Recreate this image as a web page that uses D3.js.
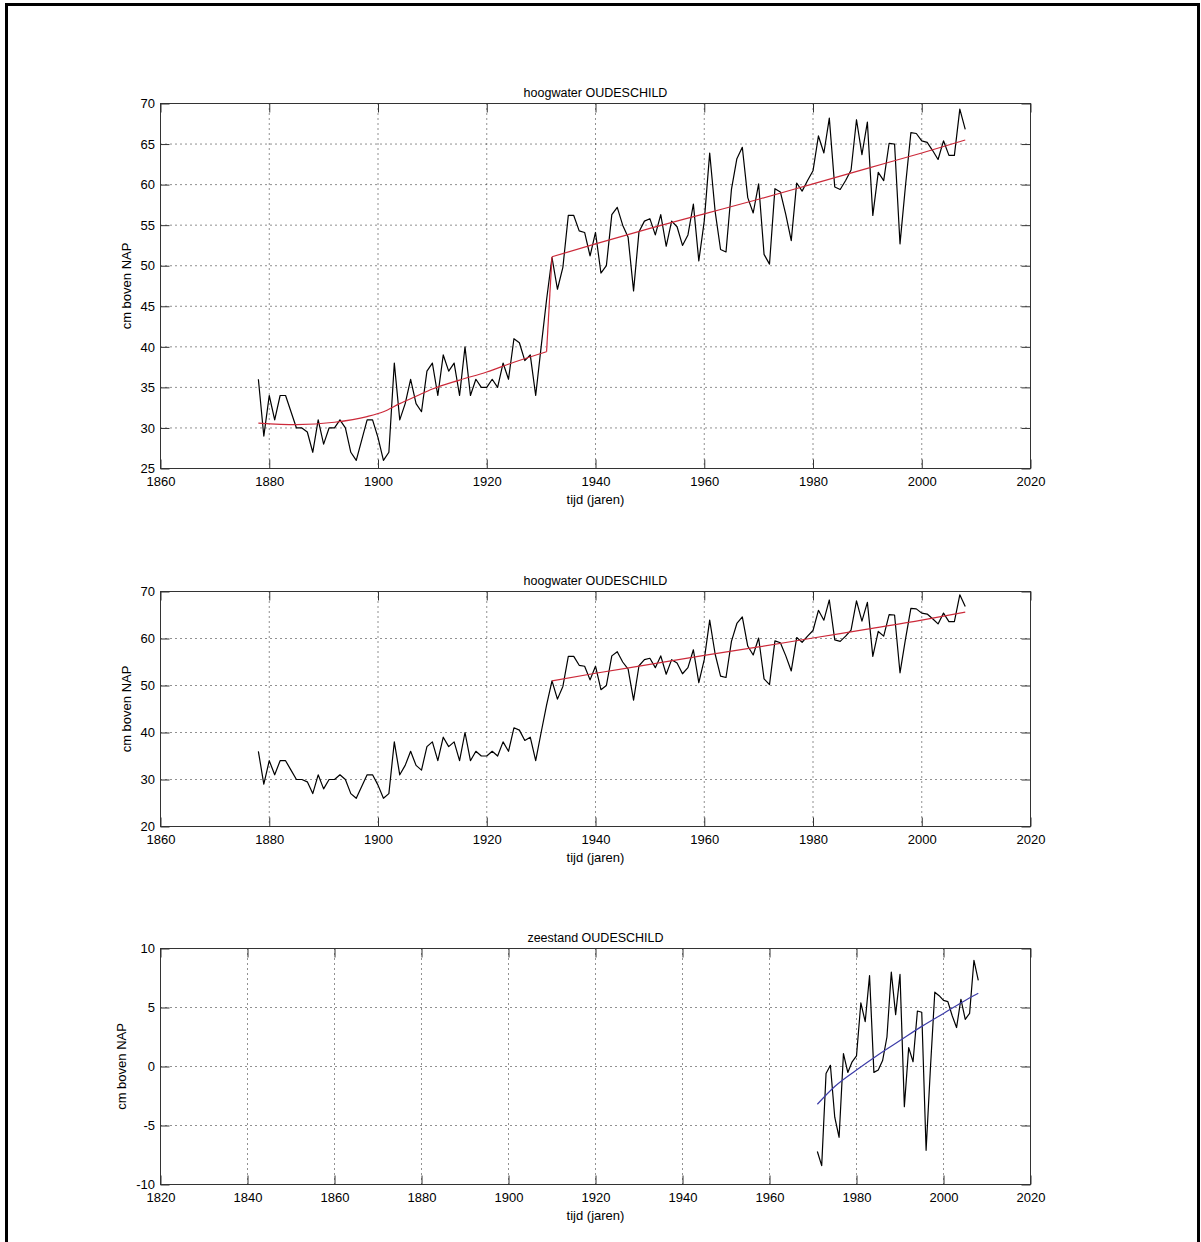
<!DOCTYPE html>
<html lang="nl">
<head>
<meta charset="UTF-8">
<title>hoogwater OUDESCHILD</title>
<script src="https://d3js.org/d3.v7.min.js"></script>
<style>
    body {
        margin: 0;
        background: #fff;
    }
    svg {
        display: block;
    }
    text {
        font-family: "Liberation Sans", Arial, sans-serif;
        font-size: 13px;
        fill: #000;
    }
    .grid line {
        stroke: #222;
        stroke-width: 1;
        stroke-dasharray: 1,4;
    }
    .box {
        fill: none;
        stroke: #333;
        stroke-width: 1;
    }
    .tick line {
        stroke: #333;
    }
    .series {
        fill: none;
        stroke-width: 1.2;
        stroke-linejoin: round;
    }
</style>
</head>
<body>
<svg id="chart" width="1201" height="1242"></svg>
<script>
// jaarlijks gemiddeld hoogwater Oudeschild, 1878 - 2008 (cm boven NAP)
var hwStart = 1878;
var hoogwater = [36, 29, 34, 31, 34, 34, 32, 30, 30, 29.5,
    27, 31, 28, 30, 30, 31, 30, 27, 26, 28.5,
    31, 31, 28.8, 26, 27, 38, 31, 33, 36, 33,
    32, 37, 38, 34, 39, 37, 38, 34, 40, 34,
    36, 35, 35, 36, 35, 38, 36, 41, 40.5, 38.3,
    39, 34, 40, 45.8, 51, 47.1, 49.8, 56.2, 56.2, 54.3,
    54.1, 51.2, 54.1, 49.1, 50, 56.3, 57.2, 55, 53.5, 46.9,
    54.2, 55.5, 55.8, 53.8, 56.3, 52.4, 55.5, 54.8, 52.5, 53.8,
    57.6, 50.6, 55.5, 63.9, 56.7, 52, 51.7, 59.4, 63.2, 64.6,
    58.4, 56.5, 60.1, 51.4, 50.2, 59.5, 59.1, 56.3, 53.1, 60.2,
    59.2, 60.5, 61.7, 66, 63.9, 68.2, 59.7, 59.4, 60.5, 61.8,
    68, 63.7, 67.7, 56.2, 61.5, 60.5, 65.1, 65, 52.7, 59.8,
    66.4, 66.3, 65.4, 65.2, 64.2, 63.1, 65.4, 63.6, 63.6, 69.3,
    66.8];

// trend (rood) bovenste figuur, voor en na de sprong in 1932
var trendJaren1a = [1878, 1885, 1892, 1898, 1901, 1904, 1907, 1910, 1915, 1920, 1925, 1931];
var trend1a = [30.6, 30.4, 30.7, 31.4, 32.0, 33.0, 33.9, 34.8, 35.9, 36.9, 38.1, 39.4];
var trendJaren1b = [1931, 1932];
var trend1b = [39.4, 51.1];
var trendJaren1c = [1932, 1940, 1950, 1960, 1970, 1980, 1990, 2000, 2008];
var trend1c = [51.1, 52.7, 54.6, 56.4, 58.2, 60.1, 62.0, 63.9, 65.5];

// trend (rood) middelste figuur, vanaf 1932
var trendJaren2 = [1932, 1940, 1950, 1960, 1970, 1980, 1990, 2000, 2008];
var trend2 = [51.0, 52.6, 54.5, 56.4, 58.2, 60.1, 62.0, 63.9, 65.6];

// zeestand Oudeschild, 1971 - 2008
var zsStart = 1971;
var zeestand = [-7.2, -8.4, -0.6, 0.1, -4.3, -6.0, 1.1, -0.5, 0.4, 0.9,
    5.4, 3.8, 7.7, -0.5, -0.3, 0.5, 2.5, 8.0, 4.4, 7.8,
    -3.4, 1.6, 0.4, 4.7, 4.6, -7.1, -0.1, 6.3, 6.0, 5.6,
    5.5, 4.3, 3.3, 5.7, 4.0, 4.5, 9.0, 7.3];

// trend (blauw) onderste figuur
var trendJaren3 = [1971, 1975, 1980, 1985, 1990, 1995, 2000, 2005, 2008];
var trend3 = [-3.2, -1.7, -0.3, 1.0, 2.2, 3.4, 4.5, 5.6, 6.2];

var xTicks1 = [1860, 1880, 1900, 1920, 1940, 1960, 1980, 2000, 2020];
var yTicks1 = [25, 30, 35, 40, 45, 50, 55, 60, 65, 70];
var yTicks2 = [20, 30, 40, 50, 60, 70];
var xTicks3 = [1820, 1840, 1860, 1880, 1900, 1920, 1940, 1960, 1980, 2000, 2020];
var yTicks3 = [-10, -5, 0, 5, 10];

var svg = d3.select("#chart");

// zwarte rand om de figuur
svg.append("path")
    .attr("d", "M6.5,1242V4.5H1198.5V1242")
    .attr("fill", "none")
    .attr("stroke", "#000")
    .attr("stroke-width", 3);

var left = 160.5, right = 1030.5;

// gewoon koppelteken als minteken, zoals in het origineel
var fmt = function(d) { return String(d); };

function panel(p) {
    var x = d3.scaleLinear().domain(p.xDomain).range([left, right]),
        y = d3.scaleLinear().domain(p.yDomain).range([p.bottom, p.top]);

    var g = svg.append("g");

    // stippel grid
    var grid = g.append("g").attr("class", "grid");
    grid.selectAll(".gx")
        .data(p.xTicks)
      .enter().append("line")
        .attr("x1", function(d) { return x(d); })
        .attr("x2", function(d) { return x(d); })
        .attr("y1", p.top)
        .attr("y2", p.bottom);
    grid.selectAll(".gy")
        .data(p.yTicks)
      .enter().append("line")
        .attr("x1", left)
        .attr("x2", right)
        .attr("y1", function(d) { return y(d); })
        .attr("y2", function(d) { return y(d); });

    // lijnen
    p.series.forEach(function(s) {
        var pts = s.values.map(function(v, i) { return [s.years ? s.years[i] : s.start + i, v]; });
        g.append("path")
            .datum(pts)
            .attr("class", "series")
            .attr("stroke", s.color)
            .attr("d", d3.line()
                .curve(s.smooth ? d3.curveMonotoneX : d3.curveLinear)
                .x(function(d) { return x(d[0]); })
                .y(function(d) { return y(d[1]); }));
    });

    g.append("rect")
        .attr("class", "box")
        .attr("x", left)
        .attr("y", p.top)
        .attr("width", right - left)
        .attr("height", p.bottom - p.top);

    // ticks naar binnen aan alle vier kanten
    g.append("g")
        .attr("transform", "translate(0," + p.bottom + ")")
        .call(d3.axisBottom(x).tickValues(p.xTicks).tickFormat(fmt)
            .tickSizeInner(-9).tickSizeOuter(0).tickPadding(8))
        .call(function(a) { a.select(".domain").remove(); });
    g.append("g")
        .attr("transform", "translate(0," + p.top + ")")
        .call(d3.axisTop(x).tickValues(p.xTicks).tickFormat("")
            .tickSizeInner(-9).tickSizeOuter(0))
        .call(function(a) { a.select(".domain").remove(); });
    g.append("g")
        .attr("transform", "translate(" + left + ",0)")
        .call(d3.axisLeft(y).tickValues(p.yTicks).tickFormat(fmt)
            .tickSizeInner(-9).tickSizeOuter(0).tickPadding(5.5))
        .call(function(a) { a.select(".domain").remove(); });
    g.append("g")
        .attr("transform", "translate(" + right + ",0)")
        .call(d3.axisRight(y).tickValues(p.yTicks).tickFormat("")
            .tickSizeInner(-9).tickSizeOuter(0))
        .call(function(a) { a.select(".domain").remove(); });

    // titel en aslabels
    g.append("text")
        .attr("x", (left + right) / 2)
        .attr("y", p.top - 10.5)
        .attr("dy", "0.35em")
        .style("font-size", "12.5px")
        .style("text-anchor", "middle")
        .text(p.title);
    g.append("text")
        .attr("x", (left + right) / 2)
        .attr("y", p.bottom + 31)
        .attr("dy", "0.35em")
        .style("text-anchor", "middle")
        .text("tijd (jaren)");
    g.append("text")
        .attr("transform", "translate(" + p.ylabelX + "," + (p.top + p.bottom) / 2 + ") rotate(-90)")
        .attr("dy", "0.35em")
        .style("text-anchor", "middle")
        .text("cm boven NAP");
}

panel({
    top: 103.5, bottom: 468.5,
    xDomain: [1860, 2020], yDomain: [25, 70],
    xTicks: xTicks1, yTicks: yTicks1,
    title: "hoogwater OUDESCHILD", ylabelX: 126.5,
    series: [
        {start: hwStart, values: hoogwater, color: "#000"},
        {years: trendJaren1a, values: trend1a, color: "#cc2a3a", smooth: true},
        {years: trendJaren1b, values: trend1b, color: "#cc2a3a"},
        {years: trendJaren1c, values: trend1c, color: "#cc2a3a", smooth: true}
    ]
});

panel({
    top: 591.5, bottom: 826.5,
    xDomain: [1860, 2020], yDomain: [20, 70],
    xTicks: xTicks1, yTicks: yTicks2,
    title: "hoogwater OUDESCHILD", ylabelX: 126.5,
    series: [
        {start: hwStart, values: hoogwater, color: "#000"},
        {years: trendJaren2, values: trend2, color: "#cc2a3a", smooth: true}
    ]
});

panel({
    top: 948.5, bottom: 1184.5,
    xDomain: [1820, 2020], yDomain: [-10, 10],
    xTicks: xTicks3, yTicks: yTicks3,
    title: "zeestand OUDESCHILD", ylabelX: 121.5,
    series: [
        {start: zsStart, values: zeestand, color: "#000"},
        {years: trendJaren3, values: trend3, color: "#3c3ca8", smooth: true}
    ]
});
</script>
</body>
</html>
